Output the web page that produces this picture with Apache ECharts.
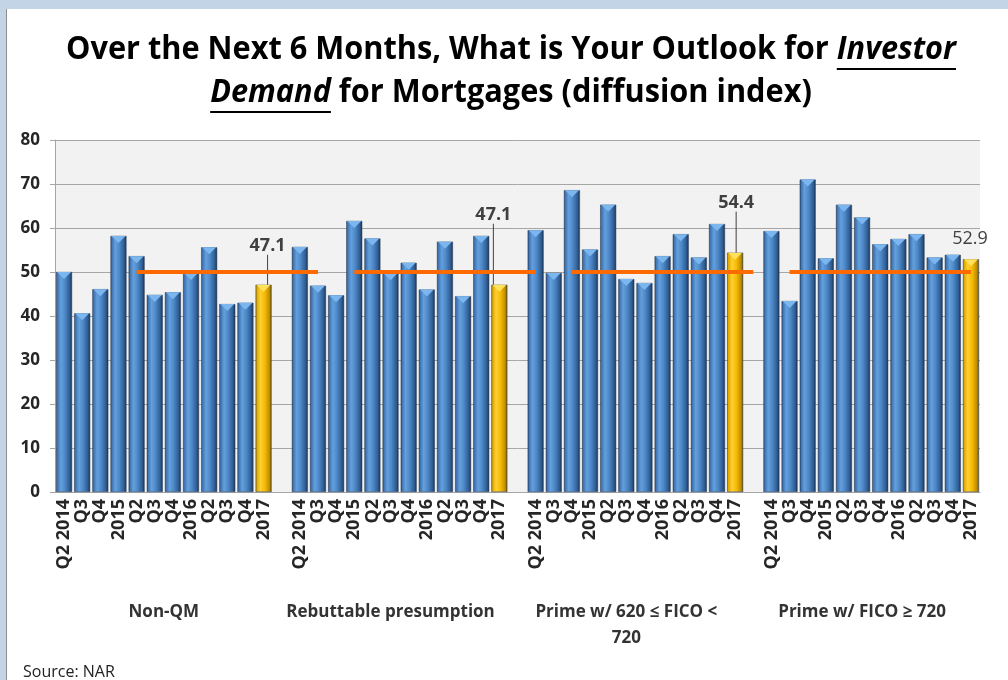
<!DOCTYPE html>
<html>
<head>
<meta charset="utf-8">
<title>Investor Demand for Mortgages</title>
<script src="https://cdn.jsdelivr.net/npm/echarts@6/dist/echarts.min.js"></script>
<style>
    html, body { margin: 0; padding: 0; background: #fff; }
    #chart { width: 1008px; height: 680px; }
</style>
</head>
<body>
<div id="chart"></div>
<script>
// data
var quarters = ['Q2 2014', 'Q3', 'Q4', '2015', 'Q2', 'Q3', 'Q4', '2016', 'Q2', 'Q3', 'Q4', '2017'];
var groupNames = ['Non-QM', 'Rebuttable presumption', 'Prime w/ 620 \u2264 FICO <\n720', 'Prime w/ FICO \u2265 720'];
var nonQM = [50.0, 40.6, 46.1, 58.2, 53.6, 44.8, 45.4, 49.8, 55.6, 42.7, 43.0, 47.1];
var rebuttable = [55.7, 46.9, 44.7, 61.6, 57.6, 49.7, 52.1, 46.0, 56.9, 44.5, 58.2, 47.1];
var prime620 = [59.5, 49.8, 68.6, 55.1, 65.3, 48.4, 47.5, 53.6, 58.6, 53.3, 60.9, 54.4];
var prime720 = [59.3, 43.4, 71.0, 53.1, 65.3, 62.4, 56.3, 57.5, 58.6, 53.3, 53.9, 52.9];
// neutral 50 line (as drawn on the slide, shifted by one slot)
var neutralLine = [null, null, null, null,
    50, 50, 50, 50, 50, 50, 50, 50, 50, 50, 50, null,
    50, 50, 50, 50, 50, 50, 50, 50, 50, 50, 50, null,
    50, 50, 50, 50, 50, 50, 50, 50, 50, 50, 50, null,
    50, 50, 50, 50, 50, 50, 50, 50, 50, 50, 50];
var yTicks = [0, 10, 20, 30, 40, 50, 60, 70, 80];
var groupCenters = [6, 18.5, 31.5, 44.5];

// build the flat category list with an empty slot between groups
var categories = [];
var values = [];
var latestIdx = [];
[nonQM, rebuttable, prime620, prime720].forEach(function (g, gi) {
    if (gi > 0) {
        categories.push('');
        values.push(null);
    }
    g.forEach(function (v, i) {
        categories.push(quarters[i]);
        values.push(v);
    });
    latestIdx.push(values.length - 1);
});

var labelShift = [[4, -25], [-6, -56], [1, -36], [-1, -6]];

var blueFill = new echarts.graphic.LinearGradient(0, 0, 1, 0, [
    { offset: 0, color: '#1E3A5F' },
    { offset: 0.08, color: '#3E72B0' },
    { offset: 0.3, color: '#63A0DD' },
    { offset: 0.55, color: '#4E88C8' },
    { offset: 0.85, color: '#2E5D93' },
    { offset: 1, color: '#1A2F4C' }
]);
var goldFill = new echarts.graphic.LinearGradient(0, 0, 1, 0, [
    { offset: 0, color: '#8A6A00' },
    { offset: 0.08, color: '#E0A800' },
    { offset: 0.3, color: '#FFD033' },
    { offset: 0.6, color: '#F4B800' },
    { offset: 0.88, color: '#B98A00' },
    { offset: 1, color: '#5E4700' }
]);

var barData = values.map(function (v, i) {
    var k = latestIdx.indexOf(i);
    if (k < 0) return v;
    return {
        value: v,
        itemStyle: { color: goldFill },
        label: { show: true, fontWeight: k === 3 ? 'normal' : 'bold' },
        labelLine: { show: k !== 3 }
    };
});
var capData = values.map(function (v, i) {
    if (v === null) return null;
    var gold = latestIdx.indexOf(i) >= 0;
    return { value: v, itemStyle: { color: gold ? '#FFE15C' : '#7BB6EE' } };
});

// title pieces; Open Sans squeezed horizontally to look like the slide's narrow face
var titleFamily = '"Open Sans", sans-serif';
var titleSize = 32;
var titleLines = [
    [{ t: 'Over the Next 6 Months, What is Your Outlook for ', it: false }, { t: 'Investor', it: true }],
    [{ t: 'Demand', it: true }, { t: ' for Mortgages (diffusion index)', it: false }]
];
var ctx = document.createElement('canvas').getContext('2d');
function fontOf(size, it) {
    return (it ? 'italic ' : '') + 'bold ' + size + 'px ' + titleFamily;
}
function lineWidth(line, size) {
    var w = 0;
    line.forEach(function (p) {
        ctx.font = fontOf(size, p.it);
        w += ctx.measureText(p.t).width;
    });
    return w;
}
var squeeze = 890 / lineWidth(titleLines[0], titleSize);
var titleGraphics = [];
[50, 93].forEach(function (cy, li) {
    var line = titleLines[li];
    var x = 511 - lineWidth(line, titleSize) * squeeze / 2;
    line.forEach(function (p) {
        ctx.font = fontOf(titleSize, p.it);
        var w = ctx.measureText(p.t).width * squeeze;
        titleGraphics.push({
            type: 'text', x: x, y: cy, scaleX: squeeze,
            style: { text: p.t, font: fontOf(titleSize, p.it), fill: '#000', textVerticalAlign: 'middle' }
        });
        if (p.it) {
            titleGraphics.push({
                type: 'rect', x: x, y: cy + 18, shape: { width: w, height: 2 },
                style: { fill: '#000' }
            });
        }
        x += w;
    });
});

var chart = echarts.init(document.getElementById('chart'));
var option = {
    animation: false,
    backgroundColor: '#fff',
    textStyle: { fontFamily: '"Open Sans", sans-serif' },
    grid: {
        left: 55, right: 28, top: 140, bottom: 188,
        show: true, backgroundColor: '#F2F2F2', borderWidth: 0
    },
    graphic: [
        { type: 'rect', x: 0, y: 0, shape: { width: 1008, height: 9 }, style: { fill: '#C3D4E7' }, z: 0 },
        { type: 'rect', x: 0, y: 0, shape: { width: 7, height: 680 }, style: { fill: '#C3D4E7' }, z: 0 },
        { type: 'rect', x: 6, y: 9, shape: { width: 1, height: 671 }, style: { fill: '#8C8C8C' }, z: 0 },
        {
            type: 'text', x: 23, y: 672,
            style: { text: 'Source: NAR', font: '16px "Open Sans", sans-serif', fill: '#222', textVerticalAlign: 'middle' }
        }
    ].concat(titleGraphics),
    xAxis: [
        {
            type: 'category',
            data: categories,
            axisLine: { lineStyle: { color: '#A6A6A6' } },
            axisTick: { show: false },
            axisLabel: {
                interval: 0, rotate: 90, margin: 7,
                fontSize: 18, fontWeight: 'bold', color: '#262626'
            }
        },
        {
            type: 'value', min: 0, max: 51,
            position: 'bottom', offset: 99,
            axisLine: { show: false }, axisTick: { show: false }, splitLine: { show: false },
            axisLabel: {
                customValues: groupCenters,
                margin: 8, fontSize: 17, fontWeight: 'bold', color: '#333', lineHeight: 26,
                formatter: function (v) {
                    var k = groupCenters.indexOf(v);
                    return k < 0 ? '' : groupNames[k];
                }
            }
        }
    ],
    yAxis: {
        type: 'value', min: 0, max: 80, interval: 10,
        axisLine: { show: true, lineStyle: { color: '#A6A6A6' } },
        axisTick: { show: true, length: 5, lineStyle: { color: '#A6A6A6' } },
        splitLine: { lineStyle: { color: '#A6A6A6', width: 1 } },
        axisLabel: {
            margin: 15, fontSize: 17, fontWeight: 'bold', color: '#262626',
            formatter: function (v) { return yTicks.indexOf(v) >= 0 ? String(v) : ''; }
        }
    },
    series: [
        {
            name: 'Diffusion index',
            type: 'bar',
            data: barData,
            barCategoryGap: '12%',
            itemStyle: { color: blueFill, borderColor: '#2A3F5A', borderWidth: 0.5 },
            label: {
                show: false, position: 'top', distance: 5,
                fontSize: 18, color: '#404040',
                formatter: function (p) { return p.value.toFixed(1); }
            },
            labelLine: { show: true, lineStyle: { color: '#404040', width: 1 } },
            labelLayout: function (params) {
                var k = latestIdx.indexOf(params.dataIndex);
                if (k < 0) return {};
                return { dx: labelShift[k][0], dy: labelShift[k][1] };
            },
            z: 2
        },
        {
            name: 'cap',
            type: 'pictorialBar',
            data: capData,
            symbol: 'path://M0,0 L10,0 L5,5 Z',
            symbolSize: [14, 7],
            symbolPosition: 'end',
            symbolOffset: [0, 0],
            silent: true,
            z: 3
        },
        {
            name: 'Neutral (50)',
            type: 'line',
            data: neutralLine,
            symbol: 'none',
            connectNulls: false,
            lineStyle: { color: '#FF6A00', width: 4 },
            z: 4
        }
    ]
};
chart.setOption(option);
</script>
</body>
</html>
